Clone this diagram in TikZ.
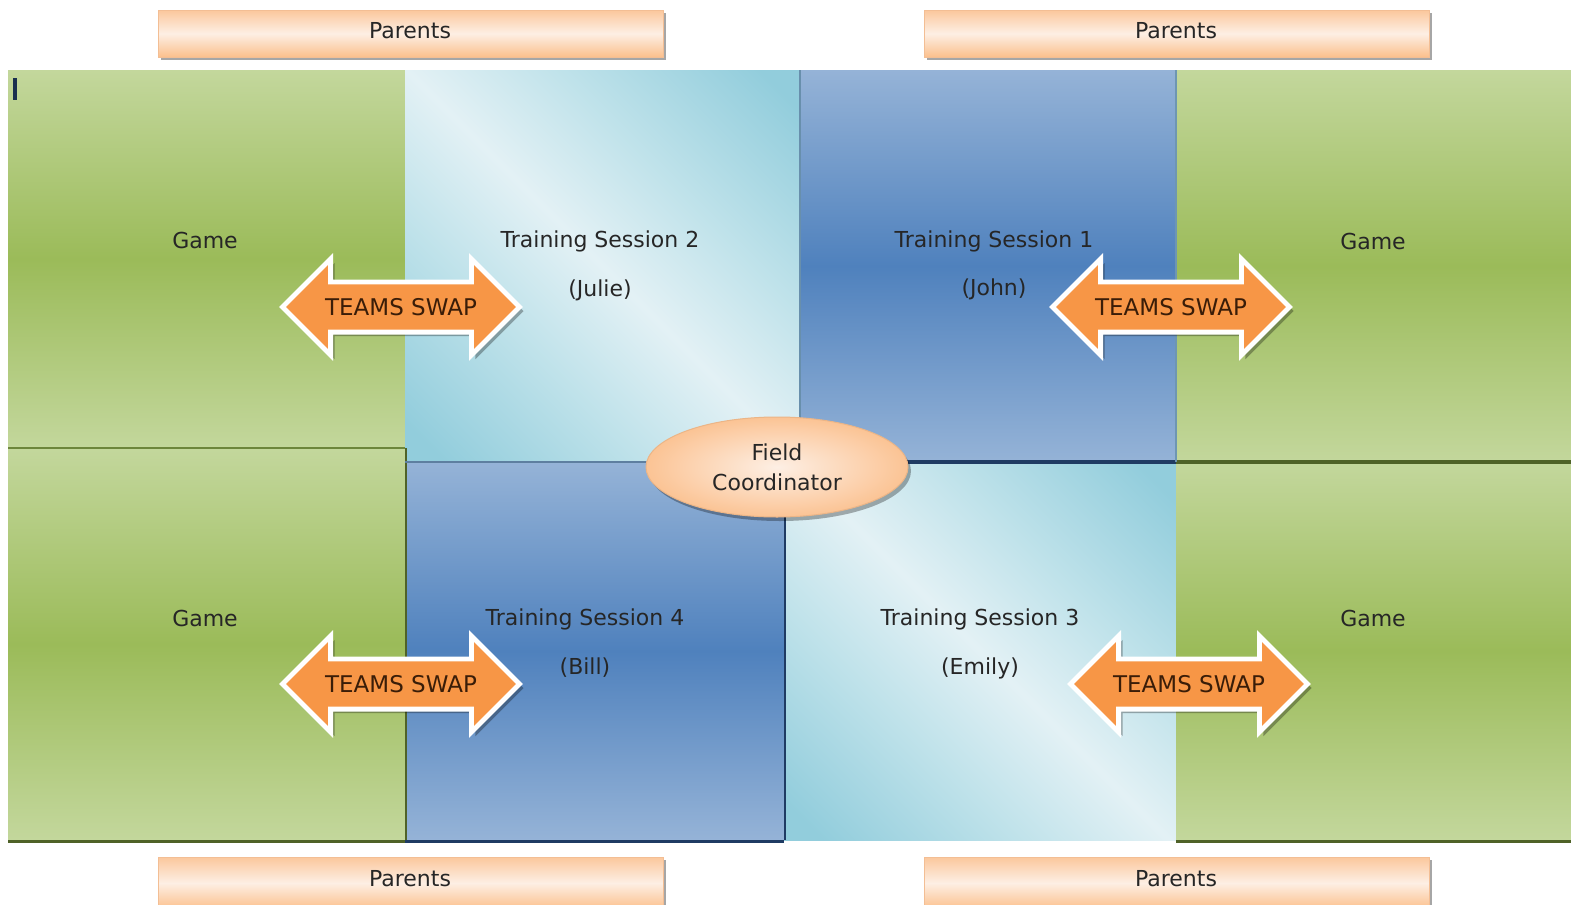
\documentclass[tikz,border=0pt]{standalone}
\usepackage{fontspec}
\setmainfont{DejaVu Sans}
\usetikzlibrary{shapes.arrows,shapes.geometric,shadows}
\definecolor{gLight}{HTML}{C3D79C}
\definecolor{gDark}{HTML}{9BBB59}
\definecolor{bLight}{HTML}{95B3D7}
\definecolor{bDark}{HTML}{4F81BD}
\definecolor{aqDark}{HTML}{92CDDC}
\definecolor{aqMid}{HTML}{BFE2EA}
\definecolor{aqLight}{HTML}{E3F1F5}
\definecolor{pPeach}{HTML}{FBC79C}
\definecolor{pLight}{HTML}{FDEFE4}
\definecolor{pEdge}{HTML}{F3BE94}
\definecolor{orArrow}{HTML}{F79646}
\definecolor{txtDark}{HTML}{262626}
\definecolor{arrowTxt}{HTML}{3A1D08}
\definecolor{shGreen}{HTML}{4F6228}
\definecolor{shBlue}{HTML}{1F3B63}
\definecolor{shSlate}{HTML}{5E7FA0}
\pgfdeclarehorizontalshading{aquash}{100bp}{color(0bp)=(aqDark); color(18bp)=(aqDark); color(36bp)=(aqMid); color(50bp)=(aqLight); color(64bp)=(aqMid); color(82bp)=(aqDark); color(100bp)=(aqDark)}
\tikzset{
  region/.style={inner sep=0pt, outer sep=0pt, anchor=north west},
  gamebox/.style={region, top color=gLight, bottom color=gLight, middle color=gDark},
  bluebox/.style={region, top color=bLight, bottom color=bLight, middle color=bDark},
  aquabox/.style={region, shading=aquash, shading angle=45},
  lbl/.style={text=txtDark, font=\fontsize{11}{12}\selectfont, inner sep=0pt},
  parentbox/.style={inner sep=0pt, outer sep=0pt, anchor=north west, minimum width=252.5pt,
    draw=pEdge, line width=0.4pt, top color=pPeach, bottom color=pPeach!90!orange, middle color=pLight,
    drop shadow={shadow xshift=1.5pt, shadow yshift=-1.5pt, fill=black, opacity=0.35}},
  swaparrow/.style={double arrow, double arrow head extend=11.5pt, minimum height=118.5pt,
    minimum width=45pt, inner xsep=2pt, inner ysep=7pt, fill=orArrow, draw=white, line width=2.4pt,
    text=arrowTxt, font=\fontsize{11.5}{12}\selectfont,
    drop shadow={shadow xshift=2pt, shadow yshift=-2pt, fill=black, opacity=0.3}},
  coord/.style={ellipse, minimum width=131pt, minimum height=50pt, inner sep=0pt,
    inner color=pLight, outer color=pPeach!95!orange, draw=pEdge!85!brown, line width=0.5pt,
    text=txtDark, font=\fontsize{11}{15}\selectfont, align=center,
    drop shadow={shadow xshift=1.5pt, shadow yshift=-2pt, fill=black, opacity=0.3}},
}
\begin{document}
\begin{tikzpicture}[x=0.5pt, y=-0.5pt]
\useasboundingbox[fill=white] (0,0) rectangle (1571,905);
% Parents boxes
\node[parentbox, minimum height=23.5pt] (parTL) at (158,10) {};
\node[parentbox, minimum height=23.5pt] (parTR) at (924,10) {};
\node[parentbox, minimum height=26pt] (parBL) at (158,857) {};
\node[parentbox, minimum height=26pt] (parBR) at (924,857) {};
\node[lbl] (parTLt) at (410,31) {Parents};
\node[lbl] (parTRt) at (1176,31) {Parents};
\node[lbl] (parBLt) at (410,879) {Parents};
\node[lbl] (parBRt) at (1176,879) {Parents};
% Regions
\node[gamebox, minimum width=198.5pt, minimum height=189pt] (gTL) at (8,70) {};
\node[gamebox, minimum width=198.5pt, minimum height=196pt] (gBL) at (8,448) {};
\node[aquabox, minimum width=197.5pt, minimum height=196pt] (ts2) at (405,70) {};
\node[bluebox, minimum width=188pt, minimum height=196pt] (ts1) at (800,70) {};
\node[gamebox, minimum width=197.5pt, minimum height=196pt] (gTR) at (1176,70) {};
\node[bluebox, minimum width=189.5pt, minimum height=189pt] (ts4) at (405,462) {};
\node[aquabox, minimum width=196pt, minimum height=189pt] (ts3) at (784,462) {};
\node[gamebox, minimum width=197.5pt, minimum height=189pt] (gBR) at (1176,462) {};
% shadow / edge lines
\draw[shGreen!60!gDark, line width=0.8pt] (gTL.south west) -- (gTL.south east);
\draw[shGreen, line width=1.6pt] ([yshift=-0.8pt]gBL.south west) -- ([yshift=-0.8pt]gBL.south east);
\draw[shBlue, line width=1.6pt] ([yshift=-0.8pt]ts4.south west) -- ([yshift=-0.8pt]ts4.south east);
\draw[shGreen, line width=1.6pt] ([yshift=-0.8pt]gBR.south west) -- ([yshift=-0.8pt]gBR.south east);
\draw[shGreen, line width=1.4pt] ([xshift=0.5pt]gBL.north east) -- ([xshift=0.5pt]gBL.south east);
\draw[shBlue, line width=1.4pt] ([xshift=0.5pt]ts4.north east) -- ([xshift=0.5pt]ts4.south east);
\draw[shSlate, line width=1.2pt] (ts2.south west) -- (ts2.south east);
\draw[shSlate!80!aqDark, line width=0.6pt] (ts2.north east) -- (ts2.south east);
\draw[shBlue, line width=1.6pt] (ts1.south west) -- (ts1.south east);
\draw[shGreen, line width=1.6pt] (gTR.south west) -- (gTR.south east);
\draw[shSlate!70!aqDark, line width=0.6pt] (ts1.north east) -- (ts1.south east);
% cursor mark
\fill[shBlue!80!black] (13,78) rectangle (17,100);
% labels
\node[lbl] (gTLt) at (205,240) {Game};
\node[lbl] (gBLt) at (205,618) {Game};
\node[lbl] (gTRt) at (1373,241) {Game};
\node[lbl] (gBRt) at (1373,618) {Game};
\node[lbl] (ts2a) at (600,241) {Training Session 2};
\node[lbl] (ts2b) at (600,290) {(Julie)};
\node[lbl] (ts1a) at (994,241) {Training Session 1};
\node[lbl] (ts1b) at (994,289) {(John)};
\node[lbl] (ts4a) at (585,619) {Training Session 4};
\node[lbl] (ts4b) at (585,668) {(Bill)};
\node[lbl] (ts3a) at (980,619) {Training Session 3};
\node[lbl] (ts3b) at (980,668) {(Emily)};
% Field coordinator
\node[coord] (fc) at (777,467) {Field\\Coordinator};
% swap arrows
\node[swaparrow] (swTL) at (401,307) {TEAMS SWAP};
\node[swaparrow] (swTR) at (1171,307) {TEAMS SWAP};
\node[swaparrow] (swBL) at (401,684) {TEAMS SWAP};
\node[swaparrow] (swBR) at (1189,684) {TEAMS SWAP};
\end{tikzpicture}
\end{document}
